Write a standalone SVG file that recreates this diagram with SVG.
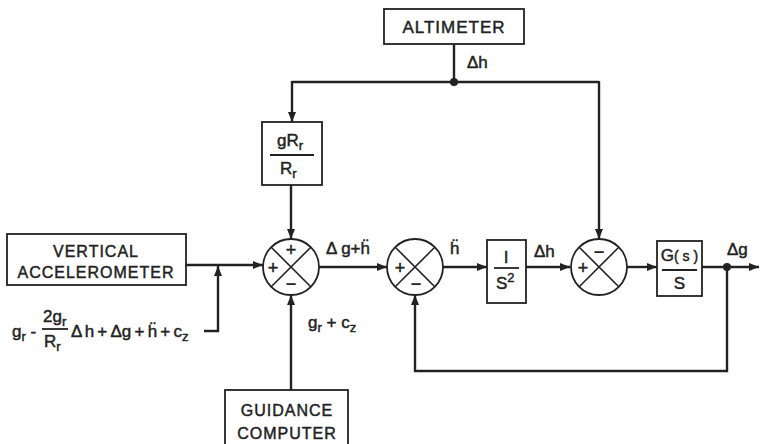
<svg xmlns="http://www.w3.org/2000/svg" width="760" height="444" viewBox="0 0 760 444">
<defs>
<style>
.box{fill:#fff;stroke:#222;stroke-width:1.8}
.sum{fill:#fff;stroke:#222;stroke-width:1.8}
.x{stroke:#222;stroke-width:1.6}
.c{fill:none;stroke:#222;stroke-width:2.4}
.t{font-family:"Liberation Sans","DejaVu Sans",Arial,sans-serif;fill:#222;stroke:#222;stroke-width:0.45}
.lbl{font-size:16px;letter-spacing:1px;text-anchor:middle}
.m{font-size:17px}
.s{font-size:18px;text-anchor:middle}
.fl{stroke:#222;stroke-width:1.8}
</style>
<marker id="ah" viewBox="0 0 10 8" refX="10" refY="4" markerWidth="10" markerHeight="8" markerUnits="userSpaceOnUse" orient="auto">
<path d="M0,0 L10,4 L0,8 z" fill="#222"/>
</marker>
</defs>
<rect width="760" height="444" fill="#fff"/>

<g id="connectors">
<line class="c" x1="454" y1="44" x2="454" y2="82"/>
<polyline class="c" points="292,82 599,82"/>
<line class="c" x1="292" y1="81" x2="292" y2="122" marker-end="url(#ah)"/>
<line class="c" x1="599" y1="81" x2="599" y2="239" marker-end="url(#ah)"/>
<line class="c" x1="291" y1="185" x2="291" y2="239" marker-end="url(#ah)"/>
<line class="c" x1="186" y1="265" x2="263" y2="265" marker-end="url(#ah)"/>
<polyline class="c" points="204,331 218,331 218,266" marker-end="url(#ah)"/>
<line class="c" x1="291" y1="390" x2="291" y2="295" marker-end="url(#ah)"/>
<line class="c" x1="319" y1="267" x2="387" y2="267" marker-end="url(#ah)"/>
<line class="c" x1="443" y1="267" x2="487" y2="267" marker-end="url(#ah)"/>
<line class="c" x1="526" y1="267" x2="570" y2="267" marker-end="url(#ah)"/>
<line class="c" x1="627" y1="267" x2="657" y2="267" marker-end="url(#ah)"/>
<line class="c" x1="702" y1="267" x2="759" y2="267" marker-end="url(#ah)"/>
<polyline class="c" points="727,267 727,371 415,371 415,295" marker-end="url(#ah)"/>
<circle cx="454" cy="82" r="4" fill="#222"/>
<circle cx="727" cy="267" r="4" fill="#222"/>
</g>

<g id="altimeter">
<rect class="box" x="384" y="9" width="140" height="35"/>
<text class="t lbl" x="454" y="33" style="font-size:17px">ALTIMETER</text>
</g>
<text class="t m" x="467" y="68">Δh</text>

<g id="gain">
<rect class="box" x="262" y="122" width="60" height="63"/>
<text class="t m" x="277" y="146">gR<tspan font-size="13" dy="4">r</tspan></text>
<line class="fl" x1="270" y1="155" x2="314" y2="155"/>
<text class="t m" x="280" y="174">R<tspan font-size="13" dy="4">r</tspan></text>
</g>

<g id="accelerometer">
<rect class="box" x="7" y="234" width="179" height="51"/>
<text class="t lbl" x="96" y="257">VERTICAL</text>
<text class="t lbl" x="96" y="278">ACCELEROMETER</text>
</g>

<g id="guidance">
<rect class="box" x="225" y="390" width="123" height="60"/>
<text class="t lbl" x="287" y="416">GUIDANCE</text>
<text class="t lbl" x="287" y="439">COMPUTER</text>
</g>

<g id="sum1">
<circle class="sum" cx="291" cy="267" r="28"/>
<line class="x" x1="271.2" y1="247.2" x2="310.8" y2="286.8"/>
<line class="x" x1="310.8" y1="247.2" x2="271.2" y2="286.8"/>
<text class="t s" x="291" y="256">+</text>
<text class="t s" x="273" y="274">+</text>
<text class="t s" x="291" y="290">−</text>
</g>

<g id="sum2">
<circle class="sum" cx="415" cy="267" r="28"/>
<line class="x" x1="395.2" y1="247.2" x2="434.8" y2="286.8"/>
<line class="x" x1="434.8" y1="247.2" x2="395.2" y2="286.8"/>
<text class="t s" x="400" y="274">+</text>
<text class="t s" x="416" y="290">−</text>
</g>

<g id="integrator">
<rect class="box" x="487" y="240" width="39" height="63"/>
<text class="t m" x="506" y="263" text-anchor="middle">I</text>
<line class="fl" x1="494" y1="268" x2="519" y2="268"/>
<text class="t m" x="496" y="289">S<tspan font-size="13" dy="-7">2</tspan></text>
</g>

<g id="sum3">
<circle class="sum" cx="599" cy="267" r="28"/>
<line class="x" x1="579.2" y1="247.2" x2="618.8" y2="286.8"/>
<line class="x" x1="618.8" y1="247.2" x2="579.2" y2="286.8"/>
<text class="t s" x="599" y="258">−</text>
<text class="t s" x="583" y="274">+</text>
</g>

<g id="gs">
<rect class="box" x="657" y="241" width="45" height="55"/>
<text class="t m" x="679.5" y="261" text-anchor="middle">G<tspan font-size="14">( s )</tspan></text>
<line class="fl" x1="662" y1="270" x2="697" y2="270"/>
<text class="t m" x="679.5" y="289" text-anchor="middle">S</text>
</g>

<g id="labels">
<text class="t m" x="326" y="254">Δ g+ḧ</text>
<text class="t m" x="450" y="254">ḧ</text>
<text class="t m" x="534" y="257">Δh</text>
<text class="t m" x="727" y="255">Δg</text>
<text class="t m" x="308" y="328">g<tspan font-size="13" dy="4">r</tspan><tspan dy="-4"> + c</tspan><tspan font-size="13" dy="4">z</tspan></text>
<text class="t m" x="12" y="337">g<tspan font-size="13" dy="4">r</tspan><tspan dy="-4"> -</tspan></text>
<text class="t m" x="43" y="322">2g<tspan font-size="13" dy="4">r</tspan></text>
<line class="fl" x1="42" y1="329" x2="68" y2="329"/>
<text class="t m" x="44" y="347">R<tspan font-size="13" dy="4">r</tspan></text>
<text class="t m" x="71" y="337" word-spacing="-1.5">Δ h + Δg + ḧ + c<tspan font-size="13" dy="4">z</tspan></text>
</g>
</svg>
